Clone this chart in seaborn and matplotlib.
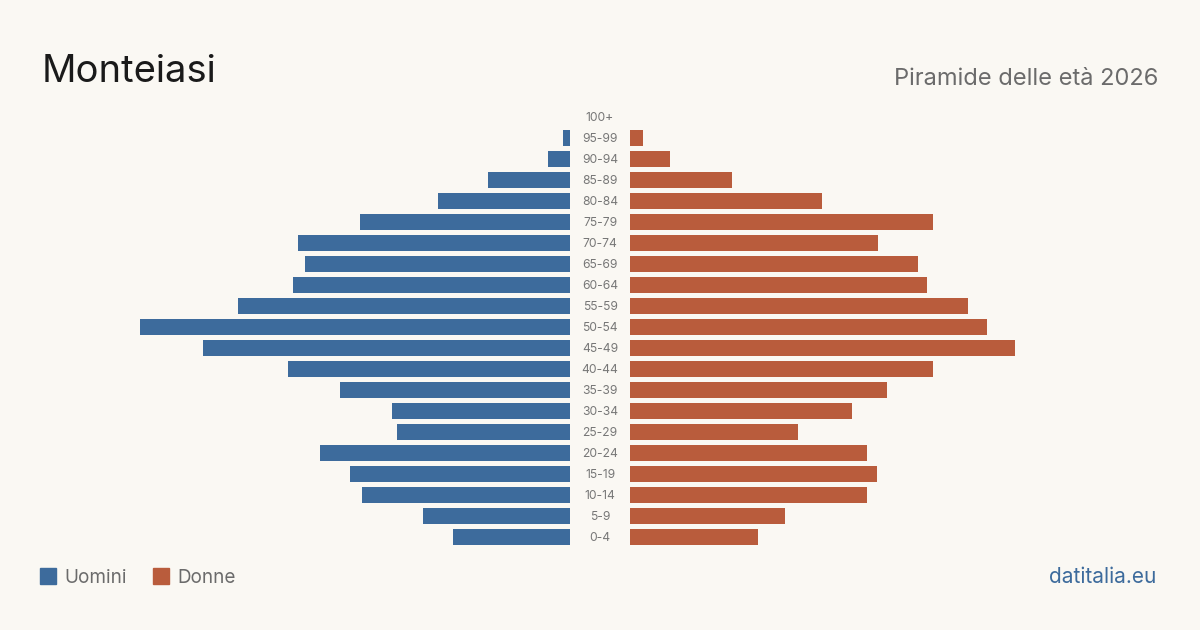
import matplotlib
matplotlib.use("Agg")
import matplotlib.pyplot as plt
import matplotlib.transforms as mtransforms
from matplotlib.patches import Rectangle
import seaborn as sns
import pandas as pd

ages = ["100+", "95-99", "90-94", "85-89", "80-84", "75-79", "70-74", "65-69",
        "60-64", "55-59", "50-54", "45-49", "40-44", "35-39", "30-34", "25-29",
        "20-24", "15-19", "10-14", "5-9", "0-4"]
uomini = [0, 4, 13, 49, 79, 126, 163, 159, 166, 199, 258, 220, 169, 138, 107, 104,
          150, 132, 125, 88, 70]
donne = [0, 8, 24, 61, 115, 182, 149, 173, 178, 203, 214, 231, 182, 154, 133, 101,
         142, 148, 142, 93, 77]

BG = "#faf8f3"
BLUE = "#3d6b9c"
ORANGE = "#b95c3c"
GRAY = "#6b6b6b"

sns.set_theme(style="white")
plt.rcParams["font.family"] = ["Inter", "DejaVu Sans"]

df = pd.DataFrame({"age": ages, "Uomini": uomini, "Donne": donne})

fig = plt.figure(figsize=(12, 6.3), dpi=100, facecolor=BG)
W, H = 1200, 630
bottom = (H - 547.5) / H
height = 441 / H
axL = fig.add_axes([130 / W, bottom, 440 / W, height])
axR = fig.add_axes([630 / W, bottom, 440 / W, height])

sns.barplot(data=df, x="Uomini", y="age", order=ages, color=BLUE, width=0.8,
            orient="h", ax=axL, saturation=1, linewidth=0, edgecolor="none")
sns.barplot(data=df, x="Donne", y="age", order=ages, color=ORANGE, width=0.8,
            orient="h", ax=axR, saturation=1, linewidth=0, edgecolor="none")

for ax in (axL, axR):
    ax.set_facecolor("none")
    ax.set_xlim(0, 264)
    ax.set_ylim(len(ages) - 0.5, -0.5)
    ax.set_xlabel("")
    ax.set_ylabel("")
    ax.set_xticks([])
    ax.set_yticks([])
    for s in ax.spines.values():
        s.set_visible(False)
axL.invert_xaxis()

trans = mtransforms.blended_transform_factory(fig.transFigure, axR.transData)
for i, a in enumerate(ages):
    axR.text(0.5, i + 0.04, a, transform=trans, ha="center", va="center",
             fontsize=8.7, color="#777777", clip_on=False)

fig.text(42 / W, 1 - 82 / H, "Monteiasi", fontsize=27.5, color="#1a1a1a",
         ha="left", va="baseline")
fig.text(1158 / W, 1 - 85 / H, "Piramide delle età 2026", fontsize=17,
         color=GRAY, ha="right", va="baseline")

# legend
for x0, col, lab, tx in [(40, BLUE, "Uomini", 64), (153, ORANGE, "Donne", 177)]:
    fig.patches.append(Rectangle((x0 / W, 1 - 584 / H), 16 / W, 16 / H,
                                 transform=fig.transFigure, color=col))
    fig.text(tx / W, 1 - 583 / H, lab, fontsize=13.6, color=GRAY,
             ha="left", va="baseline")

fig.text(1156 / W, 1 - 583 / H, "datitalia.eu", fontsize=15, color=BLUE,
         ha="right", va="baseline")

fig.savefig("out.png", dpi=100, facecolor=BG)
